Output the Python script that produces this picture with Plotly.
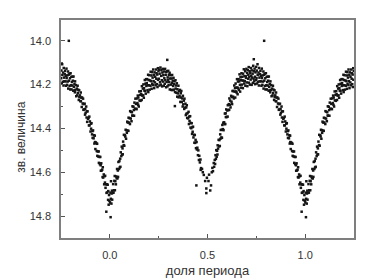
import plotly.graph_objects as go

# Folded light curve, phase in [0, 1); magnitudes
# primary eclipse, rising branch (0.00 - 0.17)
phase_a = [0.001,0.003,0.004,0.005,0.006,0.008,0.009,
           0.011,0.012,0.015,0.017,0.019,
           0.021,0.023,0.025,0.026,0.028,
           0.031,0.032,0.035,0.037,0.039,
           0.041,0.042,0.044,0.047,0.049,
           0.051,0.053,0.054,0.056,0.059,
           0.061,0.063,0.065,0.066,0.068,
           0.071,0.072,0.074,0.077,0.079,
           0.081,0.083,0.085,0.087,0.089,
           0.091,0.092,0.095,0.096,0.098,
           0.101,0.103,0.104,0.107,0.109,
           0.111,0.113,0.115,0.116,0.118,
           0.121,0.123,0.124,0.126,0.129,
           0.131,0.132,0.134,0.137,0.139,
           0.141,0.143,0.145,0.146,0.148,
           0.151,0.152,0.155,0.157,0.159,
           0.161,0.163,0.164,0.166,0.169]
mag_a = [14.738,14.693,14.805,14.721,14.641,14.743,14.697,
         14.684,14.725,14.694,14.654,14.693,
         14.682,14.639,14.617,14.682,14.641,
         14.655,14.619,14.627,14.585,14.628,
         14.592,14.621,14.553,14.585,14.549,
         14.578,14.538,14.575,14.509,14.526,
         14.483,14.519,14.491,14.518,14.460,
         14.476,14.429,14.479,14.431,14.437,
         14.406,14.447,14.408,14.420,14.369,
         14.410,14.373,14.411,14.351,14.373,
         14.353,14.380,14.321,14.355,14.324,
         14.367,14.326,14.341,14.299,14.342,
         14.301,14.316,14.342,14.282,14.311,
         14.264,14.310,14.288,14.312,14.263,
         14.284,14.250,14.292,14.259,14.300,
         14.231,14.272,14.247,14.274,14.230,
         14.244,14.270,14.207,14.250,14.218]

# first maximum (0.17 - 0.34)
phase_b = [0.171,0.172,0.174,0.175,0.177,0.179,
           0.181,0.182,0.184,0.186,0.187,0.189,
           0.191,0.193,0.194,0.196,0.197,0.199,
           0.201,0.202,0.204,0.206,0.208,0.209,
           0.211,0.213,0.214,0.216,0.217,0.219,
           0.221,0.222,0.224,0.226,0.227,0.229,
           0.231,0.232,0.234,0.236,0.238,0.239,
           0.241,0.243,0.244,0.246,0.247,0.249,
           0.251,0.252,0.254,0.255,0.257,0.259,
           0.261,0.263,0.264,0.266,0.268,0.269,
           0.271,0.272,0.274,0.276,0.277,0.279,
           0.281,0.283,0.284,0.286,0.288,0.289,
           0.291,0.293,0.294,0.295,0.296,0.298,0.299,
           0.301,0.302,0.304,0.306,0.307,0.309,
           0.311,0.313,0.314,0.316,0.318,0.319,
           0.321,0.322,0.324,0.326,0.327,0.329,
           0.331,0.333,0.334,0.336,0.337,0.339]
mag_b = [14.249,14.199,14.260,14.216,14.227,14.179,
         14.229,14.196,14.241,14.175,14.206,14.193,
         14.175,14.225,14.203,14.155,14.234,14.179,
         14.203,14.157,14.223,14.181,14.205,14.141,
         14.184,14.158,14.219,14.143,14.196,14.168,
         14.202,14.131,14.184,14.156,14.216,14.144,
         14.190,14.164,14.203,14.131,14.173,14.148,
         14.198,14.154,14.211,14.125,14.178,14.138,
         14.173,14.132,14.204,14.150,14.189,14.122,
         14.200,14.160,14.134,14.180,14.208,14.145,
         14.128,14.186,14.157,14.205,14.140,14.171,
         14.196,14.128,14.180,14.155,14.212,14.142,
         14.188,14.139,14.087,14.208,14.167,14.178,14.137,
         14.202,14.156,14.188,14.146,14.222,14.172,
         14.157,14.200,14.224,14.172,14.192,14.156,
         14.225,14.182,14.206,14.169,14.223,14.197,
         14.184,14.298,14.234,14.180,14.218,14.204]

# secondary eclipse (0.34 - 0.64)
phase_c = [0.341,0.343,0.345,0.346,0.348,
           0.351,0.352,0.354,0.357,0.359,
           0.361,0.363,0.364,0.366,0.368,
           0.371,0.373,0.374,0.376,0.379,
           0.381,0.382,0.385,0.387,0.389,
           0.391,0.392,0.394,0.396,0.398,
           0.401,0.403,0.405,0.406,0.408,
           0.411,0.413,0.414,0.417,0.419,
           0.421,0.423,0.424,0.426,0.428,
           0.431,0.433,0.435,0.437,0.439,
           0.441,0.443,0.444,0.446,0.448,
           0.451,0.453,0.456,0.458,
           0.461,0.464,0.465,0.467,
           0.472,0.476,0.481,0.488,0.494,0.494,0.497,
           0.505,0.508,0.514,0.518,0.522,0.525,0.528,
           0.532,0.534,0.537,0.539,
           0.541,0.543,0.545,0.547,0.549,
           0.551,0.552,0.554,0.557,0.559,
           0.561,0.563,0.565,0.566,0.568,
           0.571,0.573,0.574,0.576,0.579,
           0.581,0.582,0.585,0.587,0.589,
           0.591,0.593,0.594,0.596,0.598,
           0.601,0.603,0.604,0.607,0.609,
           0.611,0.612,0.614,0.616,0.618,
           0.621,0.623,0.625,0.626,0.628,
           0.631,0.632,0.635,0.637,0.639]
mag_c = [14.237,14.194,14.255,14.221,14.240,
         14.205,14.258,14.229,14.251,14.224,
         14.279,14.239,14.259,14.229,14.279,
         14.263,14.300,14.251,14.290,14.273,
         14.311,14.264,14.305,14.287,14.339,
         14.304,14.333,14.294,14.352,14.330,
         14.354,14.324,14.380,14.346,14.366,
         14.344,14.396,14.375,14.399,14.376,
         14.425,14.394,14.415,14.392,14.441,
         14.429,14.465,14.430,14.466,14.452,
         14.490,14.660,14.462,14.496,14.488,
         14.522,14.500,14.544,14.525,
         14.555,14.542,14.589,14.581,
         14.585,14.600,14.612,14.640,14.674,14.695,14.625,
         14.640,14.611,14.683,14.660,14.600,14.580,14.595,
         14.558,14.575,14.544,14.562,
         14.522,14.539,14.499,14.529,14.502,
         14.519,14.477,14.492,14.452,14.482,
         14.453,14.480,14.427,14.447,14.407,
         14.441,14.406,14.443,14.384,14.403,
         14.374,14.408,14.372,14.380,14.332,
         14.380,14.331,14.348,14.313,14.348,
         14.318,14.346,14.294,14.316,14.289,
         14.315,14.263,14.292,14.273,14.304,
         14.251,14.278,14.257,14.289,14.229,
         14.255,14.229,14.263,14.204,14.232]

# second maximum (0.64 - 0.83)
phase_d = [0.641,0.642,0.644,0.646,0.647,0.649,
           0.651,0.653,0.654,0.656,0.658,0.659,
           0.661,0.663,0.664,0.666,0.667,0.669,
           0.671,0.673,0.674,0.676,0.678,0.679,
           0.681,0.682,0.684,0.686,0.688,0.689,
           0.691,0.693,0.694,0.696,0.697,0.699,
           0.701,0.703,0.704,0.706,0.708,0.709,
           0.711,0.712,0.714,0.716,0.717,0.719,
           0.721,0.723,0.724,0.726,0.727,0.729,
           0.731,0.732,0.734,0.736,0.737,0.738,0.739,
           0.741,0.743,0.744,0.746,0.748,0.749,
           0.751,0.752,0.754,0.756,0.757,0.759,
           0.761,0.763,0.764,0.766,0.767,0.769,
           0.771,0.773,0.774,0.776,0.778,0.779,
           0.781,0.782,0.784,0.786,0.787,0.789,
           0.790,0.791,0.793,0.794,0.796,0.797,0.799,
           0.801,0.803,0.804,0.806,0.808,0.809,
           0.811,0.813,0.814,0.816,0.818,0.819,
           0.821,0.822,0.824,0.826,0.828]
mag_d = [14.216,14.259,14.195,14.231,14.214,14.236,
         14.175,14.213,14.244,14.186,14.217,14.175,
         14.224,14.185,14.153,14.201,14.232,14.166,
         14.179,14.214,14.148,14.200,14.164,14.181,
         14.216,14.150,14.182,14.130,14.195,14.161,
         14.184,14.139,14.205,14.162,14.169,14.128,
         14.190,14.147,14.207,14.134,14.173,14.155,
         14.120,14.191,14.165,14.139,14.200,14.148,
         14.177,14.124,14.160,14.201,14.135,14.168,
         14.150,14.192,14.114,14.173,14.084,14.139,14.185,
         14.127,14.164,14.198,14.144,14.179,14.119,
         14.171,14.136,14.195,14.107,14.156,14.187,
         14.145,14.204,14.124,14.168,14.185,14.152,
         14.137,14.185,14.160,14.205,14.127,14.170,
         14.201,14.158,14.186,14.140,14.218,14.155,
         14.000,14.182,14.150,14.206,14.171,14.222,14.148,
         14.203,14.164,14.222,14.188,14.204,14.164,
         14.182,14.228,14.163,14.210,14.227,14.197,
         14.235,14.185,14.224,14.202,14.253]

# primary eclipse, descending branch (0.83 - 1.00)
phase_e = [0.831,0.833,0.835,0.836,0.838,
           0.841,0.843,0.844,0.847,0.849,
           0.851,0.852,0.854,0.856,0.858,
           0.861,0.863,0.865,0.866,0.868,
           0.871,0.873,0.874,0.876,0.879,
           0.881,0.882,0.884,0.886,0.888,
           0.891,0.893,0.895,0.896,0.898,
           0.901,0.903,0.904,0.906,0.909,
           0.911,0.912,0.914,0.917,0.919,
           0.921,0.923,0.924,0.926,0.928,
           0.931,0.933,0.935,0.936,0.938,
           0.941,0.943,0.944,0.947,0.949,
           0.951,0.953,0.954,0.956,0.958,
           0.961,0.963,0.964,0.966,0.969,
           0.971,0.973,0.975,0.976,0.978,
           0.981,0.982,0.983,0.985,0.987,0.989,
           0.991,0.992,0.994,0.996,0.998]
mag_e = [14.218,14.249,14.205,14.238,14.223,
         14.270,14.226,14.257,14.249,14.275,
         14.236,14.276,14.259,14.302,14.259,
         14.286,14.264,14.315,14.289,14.313,
         14.287,14.337,14.311,14.329,14.300,
         14.350,14.322,14.370,14.322,14.356,
         14.352,14.386,14.346,14.386,14.368,
         14.414,14.378,14.401,14.376,14.427,
         14.412,14.443,14.409,14.445,14.431,
         14.469,14.433,14.462,14.494,14.464,
         14.467,14.503,14.470,14.525,14.505,
         14.528,14.505,14.557,14.530,14.563,
         14.530,14.568,14.593,14.559,14.592,
         14.588,14.622,14.577,14.624,14.610,
         14.655,14.618,14.647,14.616,14.671,
         14.655,14.780,14.694,14.655,14.692,14.657,
         14.726,14.686,14.748,14.704,14.730]

x_ticks = [0.0, 0.5, 1.0]
x_tick_labels = ["0.0", "0.5", "1.0"]
x_minor_ticks = [0.25, 0.75]
y_ticks = [14.0, 14.2, 14.4, 14.6, 14.8]
y_tick_labels = ["14.0", "14.2", "14.4", "14.6", "14.8"]
y_minor_ticks = [14.1, 14.3, 14.5, 14.7]
x_title = "доля периода"
y_title = "зв. величина"

phase = phase_a + phase_b + phase_c + phase_d + phase_e
mag = mag_a + mag_b + mag_c + mag_d + mag_e

# the folded curve is shown over -0.25 ... 1.25 (both ends repeated one period)
xs, ys = [], []
for p, m in zip(phase, mag):
    xs.append(p); ys.append(m)
    if p >= 0.75:
        xs.append(p - 1); ys.append(m)
    if p <= 0.25:
        xs.append(p + 1); ys.append(m)

fig = go.Figure(go.Scatter(
    x=xs, y=ys, mode="markers",
    marker=dict(size=2.5, color="#151515", symbol="square", line=dict(width=0)),
    hoverinfo="skip", showlegend=False))

FONT = "Liberation Sans, Arial, sans-serif"
axis_common = dict(
    showline=True, linecolor="#7f7f7f", linewidth=1.5, mirror=True,
    ticks="inside", ticklen=4, tickcolor="#555555", tickwidth=1,
    showgrid=False, zeroline=False, automargin=False,
    tickfont=dict(family=FONT, size=11, color="#333333"),
    ticklabelstandoff=6,
)

# the page adds an 8 px body margin, so the figure is 8 px smaller each way
fig.update_layout(
    width=384, height=270,
    margin=dict(l=53, r=38, t=12, b=40),
    paper_bgcolor="white", plot_bgcolor="white",
    xaxis=dict(range=[-0.25, 1.25], tickvals=x_ticks, ticktext=x_tick_labels,
               minor=dict(tickvals=x_minor_ticks, ticks="inside", ticklen=2, tickcolor="#555555"),
               title=dict(text=x_title, standoff=6,
                          font=dict(family=FONT, size=13, color="#333333")),
               **axis_common),
    yaxis=dict(range=[14.90, 13.905], tickvals=y_ticks, ticktext=y_tick_labels,
               minor=dict(tickvals=y_minor_ticks, ticks="inside", ticklen=2, tickcolor="#555555"),
               **axis_common),
    annotations=[dict(text=y_title, xref="paper", yref="paper", x=0, y=0.46,
                      xanchor="center", yanchor="middle", xshift=-40, textangle=-90,
                      showarrow=False, font=dict(family=FONT, size=12, color="#333333"))],
)

fig.write_html("out.html")
